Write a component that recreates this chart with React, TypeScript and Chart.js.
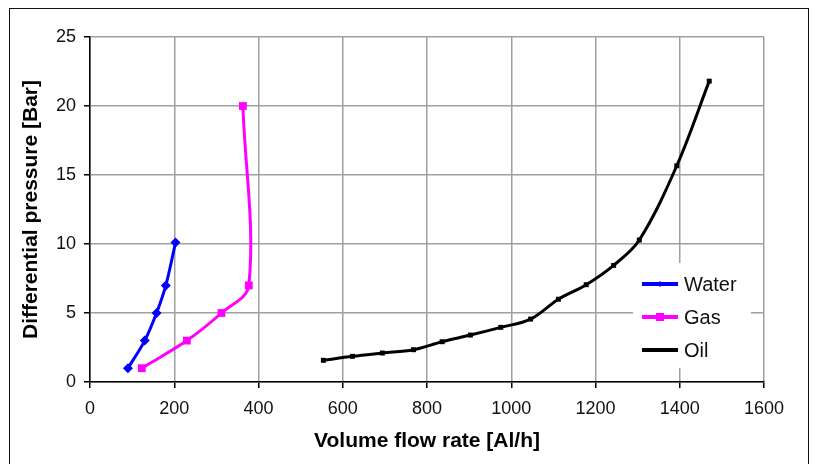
import React, { useEffect, useRef } from "react";
import { Chart, registerables } from "chart.js";

Chart.register(...registerables);

// ---- data ----
const seriesNames = ["Water", "Gas", "Oil"];
const waterX = [90, 130, 158, 180, 203];
const waterY = [1, 3, 5, 7, 10.1];
const gasX = [123, 230, 312, 377, 363];
const gasY = [1, 3, 5, 7, 20];
const oilX = [554, 623, 694, 768, 836, 903, 975, 1046, 1112, 1178, 1243, 1304, 1393, 1470];
const oilY = [1.57, 1.86, 2.1, 2.34, 2.92, 3.4, 3.96, 4.56, 6.0, 7.05, 8.45, 10.29, 15.67, 21.8];
const xTicks = [0, 200, 400, 600, 800, 1000, 1200, 1400, 1600];
const yTicks = [0, 5, 10, 15, 20, 25];
const xTitle = "Volume flow rate [Al/h]";
const yTitle = "Differential pressure [Bar]";

const FONT = "'Liberation Sans', Arial, Helvetica, sans-serif";

const zip = (xs: number[], ys: number[]) => xs.map((x, i) => ({ x, y: ys[i] }));

const framePlugin = {
  id: "frame",
  beforeDraw(chart: any) {
    const { ctx } = chart;
    ctx.save();
    ctx.fillStyle = "#fff";
    ctx.fillRect(0, 0, chart.width, chart.height);
    ctx.strokeStyle = "#111";
    ctx.lineWidth = 1;
    ctx.strokeRect(9.5, 8.5, 799, 520);
    ctx.restore();
  },
};

function drawMarker(ctx: CanvasRenderingContext2D, style: string, r: number, x: number, y: number, color: string) {
  ctx.fillStyle = color;
  ctx.beginPath();
  if (style === "rectRot") {
    ctx.moveTo(x, y - r);
    ctx.lineTo(x + r, y);
    ctx.lineTo(x, y + r);
    ctx.lineTo(x - r, y);
    ctx.closePath();
  } else {
    ctx.rect(x - r, y - r, 2 * r, 2 * r);
  }
  ctx.fill();
}

const legendPlugin = {
  id: "boxLegend",
  afterDraw(chart: any) {
    const { ctx, chartArea } = chart;
    const x0 = chartArea.right - 131;
    const y0 = chartArea.top + 226;
    ctx.save();
    ctx.fillStyle = "#fff";
    ctx.fillRect(x0, y0, 118, 105);
    const mk = [
      { s: "rectRot", r: 3 },
      { s: "rect", r: 4 },
      { s: "rect", r: 2 },
    ];
    chart.data.datasets.forEach((ds: any, i: number) => {
      const y = y0 + 21 + i * 33;
      ctx.strokeStyle = ds.borderColor;
      ctx.lineWidth = 4;
      ctx.beginPath();
      ctx.moveTo(x0 + 9, y);
      ctx.lineTo(x0 + 45, y);
      ctx.stroke();
      drawMarker(ctx, mk[i].s, mk[i].r, x0 + 27, y, ds.borderColor);
      ctx.fillStyle = "#111";
      ctx.font = `20px ${FONT}`;
      ctx.textBaseline = "middle";
      ctx.textAlign = "left";
      ctx.fillText(ds.label, x0 + 51, y + 1);
    });
    ctx.restore();
  },
};

export default function App() {
  const ref = useRef<HTMLCanvasElement | null>(null);

  useEffect(() => {
    if (!ref.current) return;
    const chart = new Chart(ref.current, {
      type: "scatter",
      data: {
        datasets: [
          {
            label: seriesNames[0],
            data: zip(waterX, waterY),
            showLine: true,
            borderColor: "#0000ff",
            backgroundColor: "#0000ff",
            borderWidth: 3,
            pointStyle: "rectRot",
            pointRadius: 5,
            pointBorderWidth: 0,
            tension: 0.35,
          },
          {
            label: seriesNames[1],
            data: zip(gasX, gasY),
            showLine: true,
            borderColor: "#ff00ff",
            backgroundColor: "#ff00ff",
            borderWidth: 3,
            pointStyle: "rect",
            pointRadius: 5.5,
            pointBorderWidth: 0,
            tension: 0.35,
          },
          {
            label: seriesNames[2],
            data: zip(oilX, oilY),
            showLine: true,
            borderColor: "#000000",
            backgroundColor: "#000000",
            borderWidth: 3,
            pointStyle: "rect",
            pointRadius: 3.5,
            pointBorderWidth: 0,
            tension: 0.35,
          },
        ],
      },
      options: {
        responsive: false,
        animation: false,
        layout: { padding: { left: 0, top: 37, right: 54, bottom: 0 } },
        plugins: {
          legend: { display: false },
          tooltip: { enabled: false },
        },
        scales: {
          x: {
            type: "linear",
            min: 0,
            max: 1600,
            afterBuildTicks: (s: any) => {
              s.ticks = xTicks.map((v) => ({ value: v }));
            },
            afterFit: (s: any) => {
              s.height = 82;
            },
            grid: { color: "#a0a0a0", lineWidth: 1.5, tickLength: 6, tickColor: "#000" },
            border: { color: "#000", width: 1.5 },
            ticks: {
              color: "#111",
              font: { family: FONT, size: 18 },
              padding: 10,
              maxRotation: 0,
              callback: (v: any) => String(v),
            },
            title: {
              display: true,
              text: xTitle,
              color: "#000",
              font: { family: FONT, size: 21, weight: "bold" },
              padding: { top: 0, bottom: 10 },
            },
          },
          y: {
            type: "linear",
            min: 0,
            max: 25,
            afterBuildTicks: (s: any) => {
              s.ticks = yTicks.map((v) => ({ value: v }));
            },
            afterFit: (s: any) => {
              s.width = 90;
            },
            grid: { color: "#a0a0a0", lineWidth: 1.5, tickLength: 6, tickColor: "#000" },
            border: { color: "#000", width: 1.5 },
            ticks: {
              color: "#111",
              font: { family: FONT, size: 18 },
              padding: 8,
              callback: (v: any) => String(v),
            },
            title: {
              display: true,
              text: yTitle,
              color: "#000",
              font: { family: FONT, size: 21, weight: "bold" },
              padding: { top: 19, bottom: 0 },
            },
          },
        },
      },
      plugins: [framePlugin, legendPlugin],
    } as any);
    return () => chart.destroy();
  }, []);

  return (
    <div style={{ position: "fixed", left: 0, top: 0, width: 818, height: 464, background: "#fff" }}>
      <canvas ref={ref} width={818} height={464} style={{ display: "block" }} />
    </div>
  );
}
